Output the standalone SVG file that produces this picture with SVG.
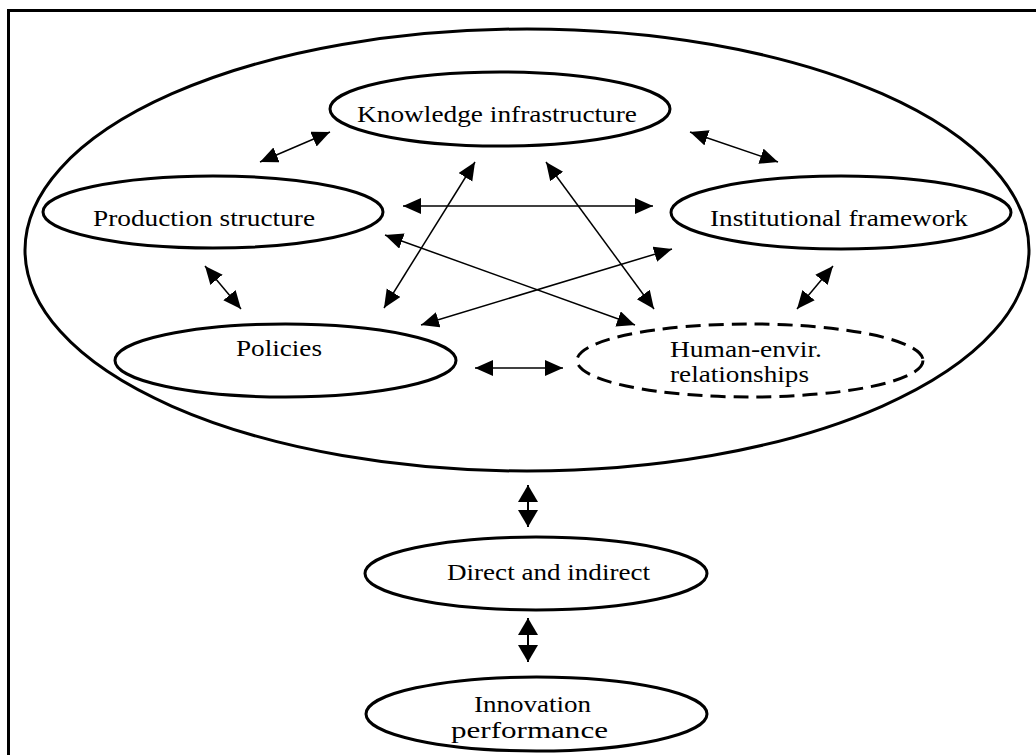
<svg xmlns="http://www.w3.org/2000/svg" width="1036" height="755" viewBox="0 0 1036 755">
<style>
.node{fill:none;stroke:#000;stroke-width:3}
.dash{stroke-dasharray:15 8}
.lbl{font-family:'Liberation Serif','Times New Roman',Times,serif;font-size:24px;fill:#000}
.c{text-anchor:middle}
.arr{stroke:#000;stroke-width:1.5;fill:none;marker-start:url(#ah);marker-end:url(#ah)}
.varr{stroke:#000;stroke-width:2;fill:none;marker-start:url(#bh);marker-end:url(#bh)}
</style>
<defs>
<marker id="ah" markerUnits="userSpaceOnUse" markerWidth="20" markerHeight="18" refX="18" refY="8" orient="auto-start-reverse" viewBox="0 0 20 18">
<path d="M0,0 L18,8 L0,16 z" fill="#000"/>
</marker>
<marker id="bh" markerUnits="userSpaceOnUse" markerWidth="20" markerHeight="22" refX="17" refY="10" orient="auto-start-reverse" viewBox="0 0 20 22">
<path d="M0,0 L17,10 L0,20 z" fill="#000"/>
</marker>
</defs>
<rect width="1036" height="755" fill="#fff"/>
<path d="M8.5,755 V10.5 H1036" fill="none" stroke="#000" stroke-width="3"/>
<g id="system">
<ellipse class="node" cx="527" cy="250" rx="502" ry="221"/>
</g>
<g id="knowledge">
<ellipse class="node" cx="500" cy="109" rx="170" ry="37"/>
<text class="lbl c" x="497" y="122" textLength="280" lengthAdjust="spacingAndGlyphs">Knowledge infrastructure</text>
</g>
<g id="production">
<ellipse class="node" cx="213" cy="212" rx="170" ry="36"/>
<text class="lbl c" x="204" y="226" textLength="222" lengthAdjust="spacingAndGlyphs">Production structure</text>
</g>
<g id="institutional">
<ellipse class="node" cx="841" cy="212.5" rx="170" ry="36.5"/>
<text class="lbl c" x="839" y="226" textLength="258" lengthAdjust="spacingAndGlyphs">Institutional framework</text>
</g>
<g id="policies">
<ellipse class="node" cx="285.5" cy="360.5" rx="170.5" ry="36.5"/>
<text class="lbl c" x="279" y="356" textLength="86" lengthAdjust="spacingAndGlyphs">Policies</text>
</g>
<g id="human">
<ellipse class="node dash" cx="750" cy="360.5" rx="173" ry="36.5"/>
<text class="lbl" x="670" y="357" textLength="152" lengthAdjust="spacingAndGlyphs">Human-envir.</text>
<text class="lbl" x="670" y="382" textLength="139" lengthAdjust="spacingAndGlyphs">relationships</text>
</g>
<g id="direct">
<ellipse class="node" cx="536" cy="573.5" rx="171" ry="36.5"/>
<text class="lbl c" x="548.5" y="580" textLength="203" lengthAdjust="spacingAndGlyphs">Direct and indirect</text>
</g>
<g id="innovation">
<ellipse class="node" cx="536.5" cy="714" rx="170.5" ry="37"/>
<text class="lbl c" x="532.5" y="712" textLength="117" lengthAdjust="spacingAndGlyphs">Innovation</text>
<text class="lbl c" x="529.5" y="738" textLength="157" lengthAdjust="spacingAndGlyphs">performance</text>
</g>
<g id="connectors">
<line class="arr" x1="260" y1="162" x2="330" y2="132"/>
<line class="arr" x1="690" y1="132" x2="778" y2="162"/>
<line class="arr" x1="205" y1="266" x2="241" y2="309"/>
<line class="arr" x1="833" y1="266" x2="797" y2="309"/>
<line class="arr" x1="475" y1="368" x2="563" y2="368"/>
<line class="arr" x1="403" y1="206" x2="653" y2="206"/>
<line class="arr" x1="475" y1="162" x2="384" y2="308"/>
<line class="arr" x1="546" y1="162" x2="654" y2="309"/>
<line class="arr" x1="385" y1="235" x2="635" y2="325"/>
<line class="arr" x1="672" y1="249" x2="421" y2="325"/>
<line class="varr" x1="528" y1="485" x2="528" y2="527"/>
<line class="varr" x1="528" y1="618" x2="528" y2="662"/>
</g>
</svg>
